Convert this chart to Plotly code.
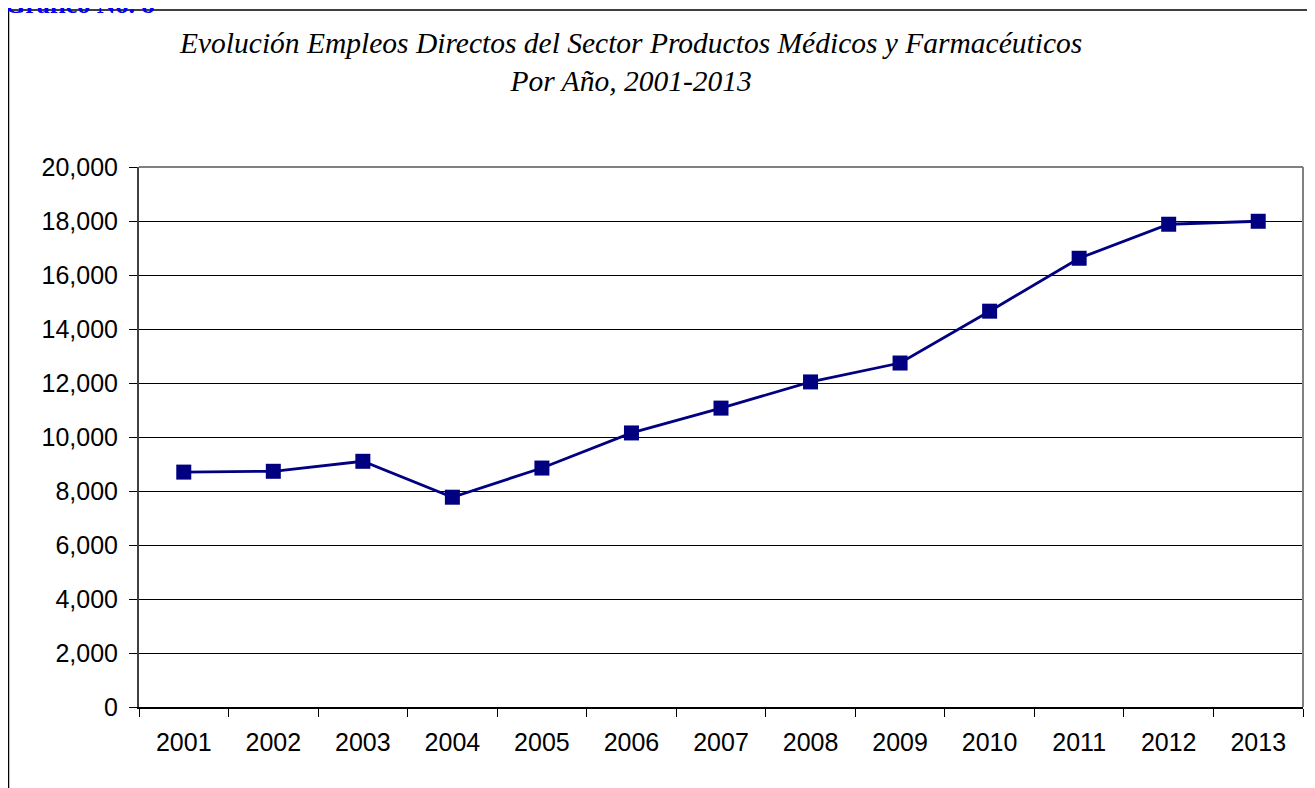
import plotly.graph_objects as go

years = ["2001", "2002", "2003", "2004", "2005", "2006", "2007",
         "2008", "2009", "2010", "2011", "2012", "2013"]
empleos = [8700, 8730, 9100, 7770, 8850, 10150, 11070,
           12040, 12740, 14660, 16620, 17880, 17990]

navy = "#000080"

fig = go.Figure()
fig.add_trace(go.Scatter(
    x=years, y=empleos, mode="lines+markers",
    line=dict(color=navy, width=2.8),
    marker=dict(symbol="square", size=15, color=navy),
    showlegend=False, hoverinfo="x+y",
))

# page has an 8px body margin, so the figure is a bit smaller than the window
fig.update_layout(
    width=1307, height=780,
    margin=dict(l=131, r=12, t=159, b=81),
    paper_bgcolor="white", plot_bgcolor="white",
    font=dict(family="Liberation Sans, Arial", size=25, color="black"),
)

fig.update_xaxes(
    type="category", tickson="boundaries", showgrid=False,
    showline=True, linecolor="black", linewidth=1.5,
    ticks="outside", ticklen=8, tickcolor="black", tickwidth=1,
    ticklabelstandoff=12,
    range=[-0.5, 12.5], fixedrange=True,
)
fig.update_yaxes(
    range=[0, 20000], dtick=2000, tickformat=",",
    showgrid=True, gridcolor="black", gridwidth=1, zeroline=False,
    showline=True, linecolor="#404040", linewidth=2,
    ticks="outside", ticklen=8, tickcolor="black", tickwidth=1,
    ticklabelstandoff=6,
    fixedrange=True,
)

# plot-area border (top and right, gray)
fig.add_shape(type="line", xref="paper", yref="paper", x0=0, x1=1, y0=1, y1=1,
              line=dict(color="#808080", width=2))
fig.add_shape(type="line", xref="paper", yref="paper", x0=1, x1=1, y0=0, y1=1,
              line=dict(color="#808080", width=2))

# outer chart frame
fig.add_shape(type="rect", xref="paper", yref="paper",
              x0=(8.5 - 139) / 1164, x1=(1330 - 139) / 1164,
              y0=(707 - 800) / 540, y1=(707 - 10) / 540,
              line=dict(color="black", width=1.5), layer="below")

fig.add_annotation(
    text="Evolución Empleos Directos del Sector Productos Médicos y Farmacéuticos<br>Por Año, 2001-2013",
    xref="paper", yref="paper", x=(630 - 139) / 1164, y=(707 - 62) / 540,
    showarrow=False, xanchor="center", yanchor="middle",
    font=dict(family="Liberation Serif, Times New Roman", size=29.5, color="black", style="italic"),
)
fig.add_annotation(
    text="<b>Gráfico No. 8</b>",
    xref="paper", yref="paper", x=(3 - 139) / 1164, y=(707 - 4.5) / 540,
    showarrow=False, xanchor="left", yanchor="middle",
    font=dict(family="Liberation Serif, Times New Roman", size=26, color="#0000ff"),
)

fig.write_html("out.html")
